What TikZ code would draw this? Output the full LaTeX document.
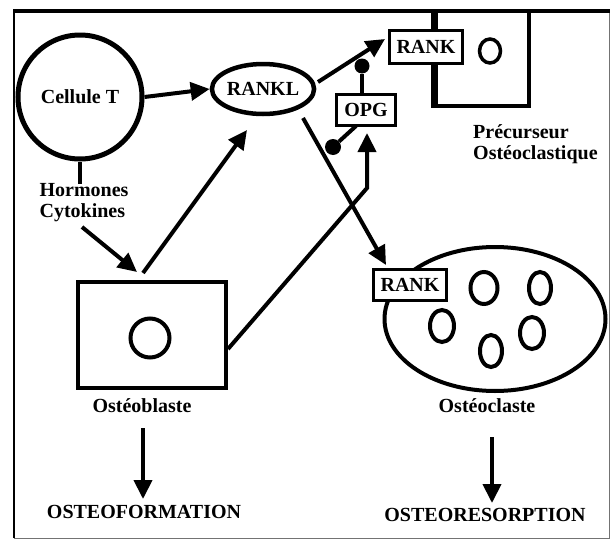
\documentclass[tikz,border=0pt]{standalone}
\usepackage{fontspec}
\setmainfont{Liberation Serif}
\usetikzlibrary{arrows.meta,shapes.geometric,calc}
\begin{document}
\begin{tikzpicture}[x=1pt,y=-1pt,
  lbl/.style={font=\fontsize{20}{21}\selectfont\bfseries, inner sep=0pt},
  arr/.style={line width=4pt, -{Triangle[length=19pt,width=18pt]}},
  ln/.style={line width=4pt},
  rbox/.style={draw, fill=white, line width=3pt, inner sep=0pt, lbl},
  nuc/.style={draw, ellipse, line width=4pt, inner sep=0pt, minimum width=22pt, minimum height=32pt},
  blob/.style={circle, fill=black, minimum size=15pt, inner sep=0pt}
]
\useasboundingbox (0,0) rectangle (611,541);
% frame
\draw[line width=1pt, black!55] (609,11) -- (609,538) -- (14,538);
\draw[line width=2pt] (14,538) -- (14,11);
\draw[line width=3.5pt] (13,11) -- (610,11);

% Cellule T
\node[draw, circle, line width=5pt, minimum size=124pt, lbl] (cellT) at (80,97) {Cellule T};
% RANKL
\node[draw, ellipse, line width=4.5pt, minimum width=100pt, minimum height=50pt, lbl] (rankl) at (263,89) {RANKL};
% Hormones / Cytokines
\node[lbl, align=left] (horm) at (84,203) {Hormones\\Cytokines};

% Osteoblaste
\node[draw, line width=4pt, minimum width=148pt, minimum height=106pt, inner sep=0pt] (ob) at (152,335) {};
\node[draw, circle, line width=4pt, minimum size=39pt, inner sep=0pt] (obn) at (150,338) {};
\node[lbl] (oblbl) at (142,406) {Ostéoblaste};
\node[lbl] (oform) at (144,512) {OSTEOFORMATION};

% Precurseur osteoclastique
\node[draw, line width=3.5pt, minimum width=93pt, minimum height=95pt, inner sep=0pt] (prec) at (482.5,58.5) {};
\draw[line width=6pt] (prec.north west) -- (prec.south west);
\node[draw, ellipse, line width=3.5pt, minimum width=21pt, minimum height=24pt, inner sep=0pt] (precn) at (490,51) {};
\node[rbox, minimum width=73pt, minimum height=33pt] (rank1) at (426,47) {RANK};
\node[rbox, minimum width=59pt, minimum height=31pt] (opg) at (366,110) {OPG};
\node[lbl, align=left, anchor=west] (preclbl) at (473,144) {Précurseur\\Ostéoclastique};

% Osteoclaste
\node[draw, ellipse, line width=4pt, minimum width=221pt, minimum height=144pt, inner sep=0pt] (oc) at (495,319) {};
\node[rbox, minimum width=73pt, minimum height=31pt] (rank2) at (410,285) {RANK};
\node[nuc, minimum width=27pt] (n1) at (484,288) {};
\node[nuc] (n2) at (540,288) {};
\node[nuc, minimum width=24pt] (n3) at (442,326) {};
\node[nuc, minimum width=24pt] (n4) at (532,333) {};
\node[nuc] (n5) at (491,351) {};
\node[lbl] (oclbl) at (487,406) {Ostéoclaste};
\node[lbl] (oresorp) at (485,515) {OSTEORESORPTION};

% inhibition blobs
\node[blob] (b1) at (362,66) {};
\node[blob, minimum size=16pt] (b2) at (333,147) {};

% coordinates for connector ends
\coordinate (h1) at (82,227);
\coordinate (h2) at (137,272);
\coordinate (o1) at (143,273);
\coordinate (o2) at (247,130);
\coordinate (bend) at (367,188);
\coordinate (opgin) at (367,133);
\coordinate (r1s) at (318,82);
\coordinate (r1e) at (385,39);
\coordinate (r2s) at (303,118);
\coordinate (r2e) at (386,265);
\coordinate (d1s) at (143,428);
\coordinate (d1e) at (143,499);
\coordinate (d2s) at (492,437);
\coordinate (d2e) at (492,503);
\coordinate (g2) at (356,126);

% connectors
\draw[arr] (cellT.east) -- (rankl.west);
\draw[ln] (cellT.south) -- (cellT.south |- horm.north);
\draw[arr] (h1) -- (h2);
\draw[arr] (o1) -- (o2);
\draw[arr] ($(ob.east)+(0,14)$) -- (bend) -- (opgin);
\draw[arr] (r1s) -- (r1e);
\draw[arr] (r2s) -- (r2e);
\draw[ln] ($(opg.north)+(-4,0)$) -- (b1);
\draw[ln] (g2) -- (b2);
\draw[arr] (d1s) -- (d1e);
\draw[arr] (d2s) -- (d2e);
\end{tikzpicture}
\end{document}
